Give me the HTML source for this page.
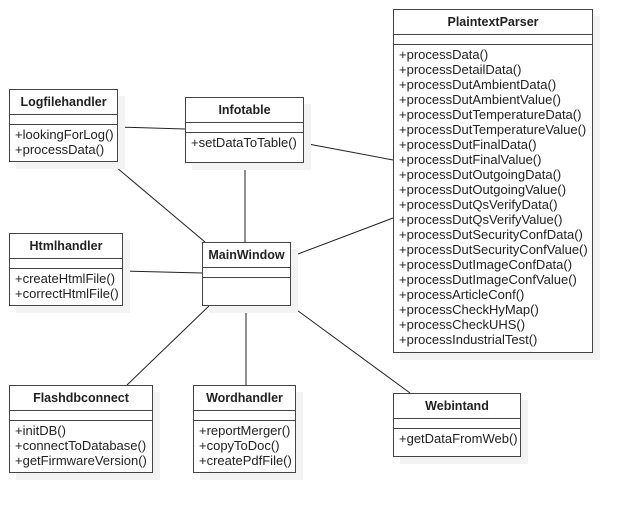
<!DOCTYPE html>
<html><head><style>
body{margin:0;width:632px;height:513px;background:#fff;position:relative;font-family:"Liberation Sans",Arial,sans-serif;font-size:13px;color:#222;overflow:hidden}
.b{position:absolute;border:1.5px solid #444;background:#fff;box-shadow:7px 7px 0 #f3f3f3;box-sizing:border-box}
.h{height:24px;line-height:25px;text-align:center;font-weight:bold;font-size:12.5px;border-bottom:1.5px solid #444}
.e{height:9px;border-bottom:1.5px solid #444}
.m{padding:2px 0 0 5px;line-height:15px;white-space:nowrap}
svg{position:absolute;left:0;top:0}
</style></head><body>
<svg width="632" height="513"><g stroke="#222" stroke-width="1">
<line x1="117" y1="127" x2="185" y2="129"/>
<line x1="303" y1="143" x2="393" y2="160"/>
<line x1="110" y1="162" x2="205" y2="242"/>
<line x1="245" y1="162" x2="245" y2="242"/>
<line x1="290" y1="257" x2="393" y2="218"/>
<line x1="123" y1="271" x2="202" y2="273"/>
<line x1="210" y1="305" x2="127" y2="385"/>
<line x1="246" y1="305" x2="246" y2="385"/>
<line x1="290" y1="305" x2="410" y2="393"/>
</g></svg>
<div class="b" style="left:9px;top:89px;width:109px;height:73px"><div class="h">Logfilehandler</div><div class="e"></div><div class="m">+lookingForLog()<br>+processData()</div></div>
<div class="b" style="left:185px;top:97px;width:119px;height:66px"><div class="h">Infotable</div><div class="e"></div><div class="m">+setDataToTable()</div></div>
<div class="b" style="left:393px;top:9px;width:200px;height:344px"><div class="h">PlaintextParser</div><div class="e"></div><div class="m">+processData()<br>+processDetailData()<br>+processDutAmbientData()<br>+processDutAmbientValue()<br>+processDutTemperatureData()<br>+processDutTemperatureValue()<br>+processDutFinalData()<br>+processDutFinalValue()<br>+processDutOutgoingData()<br>+processDutOutgoingValue()<br>+processDutQsVerifyData()<br>+processDutQsVerifyValue()<br>+processDutSecurityConfData()<br>+processDutSecurityConfValue()<br>+processDutImageConfData()<br>+processDutImageConfValue()<br>+processArticleConf()<br>+processCheckHyMap()<br>+processCheckUHS()<br>+processIndustrialTest()</div></div>
<div class="b" style="left:9px;top:233px;width:114px;height:73px"><div class="h">Htmlhandler</div><div class="e"></div><div class="m">+createHtmlFile()<br>+correctHtmlFile()</div></div>
<div class="b" style="left:202px;top:242px;width:89px;height:64px"><div class="h">MainWindow</div><div class="e"></div></div>
<div class="b" style="left:9px;top:385px;width:144px;height:88px"><div class="h">Flashdbconnect</div><div class="e"></div><div class="m">+initDB()<br>+connectToDatabase()<br>+getFirmwareVersion()</div></div>
<div class="b" style="left:193px;top:385px;width:103px;height:88px"><div class="h">Wordhandler</div><div class="e"></div><div class="m">+reportMerger()<br>+copyToDoc()<br>+createPdfFile()</div></div>
<div class="b" style="left:393px;top:393px;width:128px;height:64px"><div class="h">Webintand</div><div class="e"></div><div class="m">+getDataFromWeb()</div></div>
</body></html>
